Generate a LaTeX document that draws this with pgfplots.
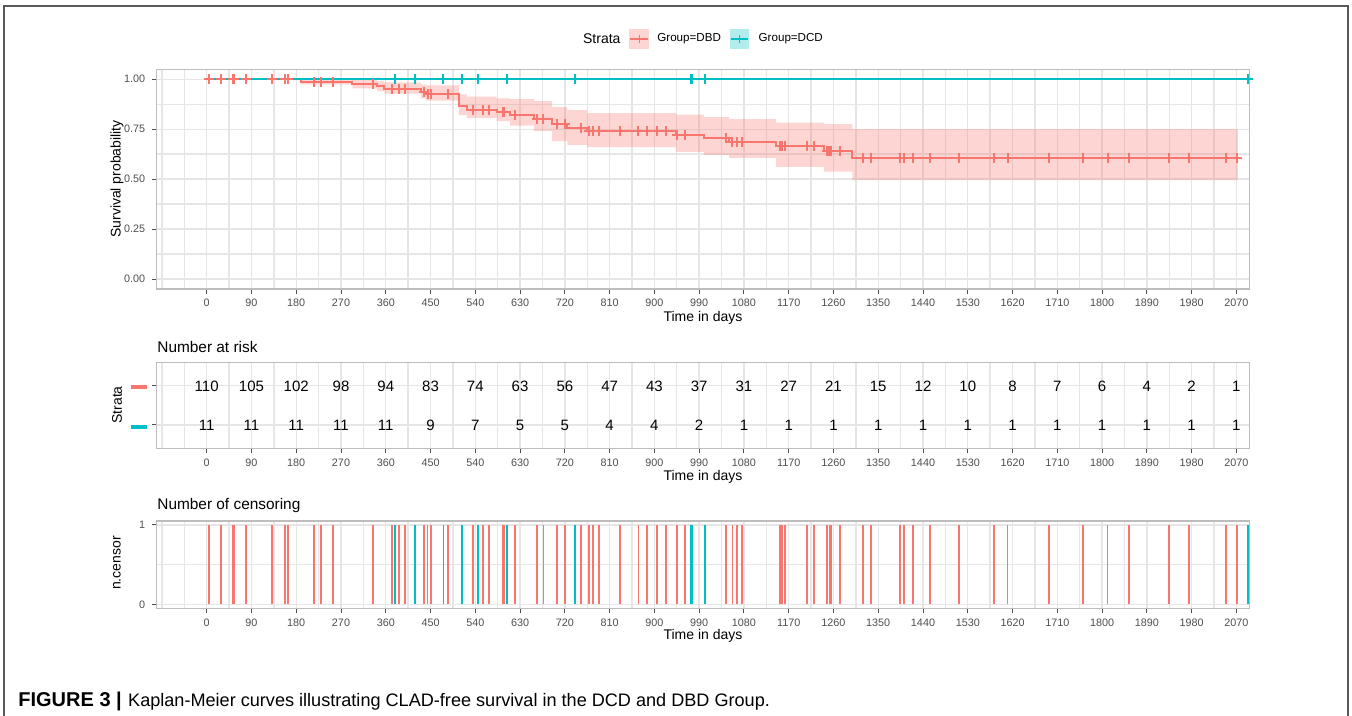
\documentclass[border=0pt]{standalone}
\usepackage{fontspec}
\setmainfont{Liberation Sans}
\usepackage{pgfplots}
\pgfplotsset{compat=1.18}
\usepackage{pgfplotstable}
\definecolor{dbd}{HTML}{F8766D}
\definecolor{dcd}{HTML}{00BFC4}
\definecolor{gridc}{HTML}{E6E6E6}
\definecolor{borderc}{HTML}{BDBDBD}
\definecolor{tickc}{HTML}{4D4D4D}

\pgfplotstableread{
t s
0 1.0
190 0.987
293 0.975
343 0.966
357 0.951
430 0.935
440 0.925
507 0.864
523 0.848
583 0.835
610 0.822
658 0.80
694 0.775
725 0.755
765 0.742
943 0.72
1000 0.704
1050 0.685
1144 0.665
1241 0.64
1298 0.605
2079 0.605
}\kmDBD

\pgfplotstableread{
t s
4 1
28 1
52 1
55 1
79 1
131 1
158 1
164 1
216 0.987
230 0.987
254 0.987
334 0.975
372 0.951
386 0.951
399 0.951
437 0.935
444 0.925
451 0.925
485 0.925
535 0.848
556 0.848
568 0.848
595 0.835
598 0.835
620 0.822
664 0.80
677 0.80
705 0.775
721 0.775
752 0.755
769 0.742
776 0.742
788 0.742
831 0.742
868 0.742
885 0.742
906 0.742
924 0.742
945 0.72
962 0.72
1044 0.704
1057 0.685
1066 0.685
1076 0.685
1153 0.665
1156 0.665
1163 0.665
1206 0.665
1221 0.665
1247 0.64
1252 0.64
1255 0.64
1273 0.64
1320 0.605
1335 0.605
1393 0.605
1401 0.605
1420 0.605
1454 0.605
1513 0.605
1582 0.605
1610 0.605
1694 0.605
1762 0.605
1811 0.605
1854 0.605
1935 0.605
1975 0.605
2049 0.605
2071 0.605
}\cenDBD

\pgfplotstableread{
t s
379 1
419 1
476 1
514 1
546 1
603 1
741 1
974 1
975 1
1002 1
2094 1
}\cenDCD

\pgfplotstableread{
t y n
0 2 110
90 2 105
180 2 102
270 2 98
360 2 94
450 2 83
540 2 74
630 2 63
720 2 56
810 2 47
900 2 43
990 2 37
1080 2 31
1170 2 27
1260 2 21
1350 2 15
1440 2 12
1530 2 10
1620 2 8
1710 2 7
1800 2 6
1890 2 4
1980 2 2
2070 2 1
}\riskDBD

\pgfplotstableread{
t y n
0 1 11
90 1 11
180 1 11
270 1 11
360 1 11
450 1 9
540 1 7
630 1 5
720 1 5
810 1 4
900 1 4
990 1 2
1080 1 1
1170 1 1
1260 1 1
1350 1 1
1440 1 1
1530 1 1
1620 1 1
1710 1 1
1800 1 1
1890 1 1
1980 1 1
2070 1 1
}\riskDCD

\pgfplotsset{
  kmbase/.style={
    scale only axis, width=546.3pt,
    xmin=-100.5, xmax=2096,
    axis line style={draw=borderc, line width=0.6pt},
    tick pos=left,
    tick align=outside, major tick length=2.3pt, minor tick length=0pt,
    tick style={draw=tickc, line width=0.5pt},
    xtick={0,90,...,2070},
    minor xtick={-90,-45,...,2070},
    grid=both,
    major grid style={draw=gridc, line width=0.7pt},
    minor grid style={draw=gridc, line width=0.7pt},
    /pgf/number format/assume math mode=true,
    /pgf/number format/1000 sep={},
    tick label style={font=\fontsize{5.4}{6}\selectfont, text=tickc},
    xticklabel style={yshift=0.6pt},
  },
  risknum/.style={only marks, mark=*, mark size=0pt, mark options={draw=none, fill=none},
    nodes near coords, point meta=explicit symbolic,
    every node near coord/.append style={font=\fontsize{7.5}{8}\selectfont, text=black,
      anchor=base, yshift=-2.7pt}},
}

\begin{document}
\begin{tikzpicture}
\useasboundingbox (0,0) rectangle (676pt,358pt);
% frame
\draw[black!65, line width=0.7pt] (2pt,0pt) -- (2pt,355pt) -- (674pt,355pt) -- (674pt,0pt);

% ---------- survival curves ----------
\begin{axis}[kmbase, at={(78.35pt,213.5pt)}, anchor=south west, height=109.85pt,
  ymin=-0.05, ymax=1.05, ytick={0,0.25,0.5,0.75,1},
  yticklabels={0.00,0.25,0.50,0.75,1.00},
  minor ytick={0.125,0.375,0.625,0.875}]
% 95% confidence band of DBD (upper limit forward, lower limit backward)
\addplot[fill=dbd, fill opacity=0.3, draw=none, forget plot] coordinates {
(0,1) (190,1) (293,1) (293,0.996) (343,0.996) (343,0.99) (357,0.99) (357,0.985)
(430,0.985) (430,0.975) (440,0.975) (440,0.97) (507,0.97) (507,0.925) (523,0.925)
(523,0.913) (583,0.913) (583,0.905) (610,0.905) (610,0.9) (658,0.9) (658,0.89)
(694,0.89) (694,0.86) (725,0.86) (725,0.845) (765,0.845) (765,0.83) (943,0.83)
(943,0.823) (1000,0.823) (1000,0.81) (1050,0.81) (1050,0.80) (1144,0.80) (1144,0.783)
(1241,0.783) (1241,0.775) (1298,0.775) (1298,0.75) (2073,0.75)
(2073,0.495) (1298,0.495) (1298,0.538) (1241,0.538) (1241,0.562) (1144,0.562)
(1144,0.607) (1050,0.607) (1050,0.622) (1000,0.622) (1000,0.636) (943,0.636)
(943,0.66) (765,0.66) (765,0.672) (725,0.672) (725,0.69) (694,0.69) (694,0.74)
(658,0.74) (658,0.768) (610,0.768) (610,0.79) (583,0.79) (583,0.807) (523,0.807)
(523,0.82) (507,0.82) (507,0.893) (440,0.893) (440,0.905) (430,0.905) (430,0.928)
(357,0.928) (357,0.94) (343,0.94) (343,0.954) (293,0.954) (293,0.975) (190,0.975)
(190,1) (0,1)};
\addplot[const plot, dbd, line width=0.95pt, forget plot] table[x=t, y=s] {\kmDBD};
\addplot[dcd, line width=0.95pt, forget plot] coordinates {(0,1) (2096,1)};
\addplot[only marks, mark=+, mark size=2.5pt, dbd, mark options={line width=1pt}, forget plot] table[x=t, y=s] {\cenDBD};
\addplot[only marks, mark=+, mark size=2.5pt, dcd, mark options={line width=1pt}, forget plot] table[x=t, y=s] {\cenDCD};
\end{axis}

% ---------- number at risk ----------
\begin{axis}[kmbase, at={(78.35pt,133.85pt)}, anchor=south west, height=43pt,
  ymin=0.4, ymax=2.6, ytick={1,2}, yticklabels={,,}]
\addplot[risknum] table[x=t, y=y, meta=n] {\riskDBD};
\addplot[risknum] table[x=t, y=y, meta=n] {\riskDCD};
\end{axis}

% ---------- number of censoring ----------
\begin{axis}[kmbase, at={(78.35pt,53.85pt)}, anchor=south west, height=43.65pt,
  ymin=-0.05, ymax=1.05, ytick={0,1}, minor ytick={0.5}]
\addplot[ycomb, dbd, line width=0.9pt] table[x=t, y expr=1] {\cenDBD};
\addplot[ycomb, dcd, line width=0.9pt] table[x=t, y expr=1] {\cenDCD};
\end{axis}

% ---------- texts ----------
\node[font=\fontsize{7}{8}\selectfont] at (351.5pt,199pt) {Time in days};
\node[font=\fontsize{7}{8}\selectfont] at (351.5pt,119.5pt) {Time in days};
\node[font=\fontsize{7}{8}\selectfont] at (351.5pt,40pt) {Time in days};
\node[rotate=90, font=\fontsize{7}{8}\selectfont] at (58.5pt,268.5pt) {Survival probability};
\node[rotate=90, font=\fontsize{7}{8}\selectfont] at (58.5pt,155.5pt) {Strata};
\node[rotate=90, font=\fontsize{7}{8}\selectfont] at (58.5pt,76.5pt) {n.censor};
\node[anchor=west, inner sep=0pt, font=\fontsize{7.7}{8}\selectfont] at (78.5pt,184.65pt) {Number at risk};
\node[anchor=west, inner sep=0pt, font=\fontsize{7.7}{8}\selectfont] at (78.5pt,105pt) {Number of censoring};
\draw[dbd, line width=2pt] (65.35pt,164.65pt) -- (73.35pt,164.65pt);
\draw[dcd, line width=2pt] (65.35pt,144.65pt) -- (73.35pt,144.65pt);

% legend
\node[anchor=west, inner sep=0pt, font=\fontsize{7}{8}\selectfont] at (291.35pt,338.5pt) {Strata};
\fill[dbd, opacity=0.3] (314.65pt,333.5pt) rectangle (324.65pt,343.5pt);
\draw[dbd, line width=0.8pt] (315.2pt,338.5pt) -- (324.1pt,338.5pt);
\draw[dbd, line width=0.8pt] (319.65pt,336.5pt) -- (319.65pt,340.5pt);
\node[anchor=west, inner sep=0pt, font=\fontsize{5.8}{7}\selectfont] at (328.5pt,338.5pt) {Group=DBD};
\fill[dcd, opacity=0.3] (365pt,333.5pt) rectangle (374.65pt,343.5pt);
\draw[dcd, line width=0.8pt] (365.5pt,338.5pt) -- (374.1pt,338.5pt);
\draw[dcd, line width=0.8pt] (369.8pt,336.5pt) -- (369.8pt,340.5pt);
\node[anchor=west, inner sep=0pt, font=\fontsize{5.8}{7}\selectfont] at (379.15pt,338.5pt) {Group=DCD};

% caption
\node[anchor=base west, inner sep=0pt] at (9pt,5pt)
  {{\fontsize{10}{11}\selectfont\bfseries FIGURE 3 |}\hspace{3.2pt}{\fontsize{9.05}{10}\selectfont Kaplan-Meier curves illustrating CLAD-free survival in the DCD and DBD Group.}};
\end{tikzpicture}
\end{document}
